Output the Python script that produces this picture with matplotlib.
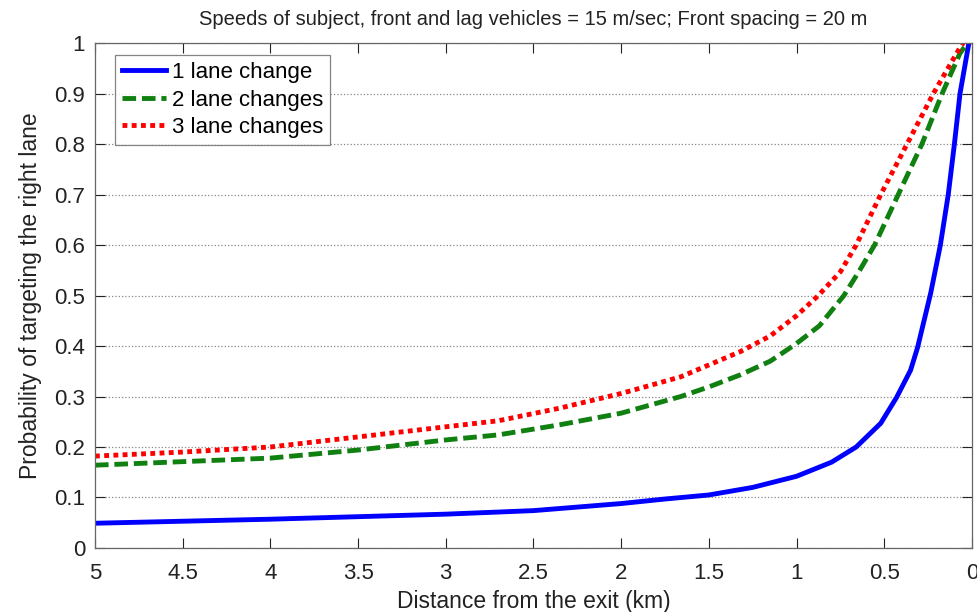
import numpy as np
from matplotlib import pyplot as plt

# values: distance from the exit (km) -> probability
dist_one = [5.0, 4.5, 4.0, 3.5, 3.0, 2.5, 2.0, 1.75, 1.5, 1.25, 1.0, 0.8,
            0.66, 0.52, 0.43, 0.35, 0.31, 0.235, 0.18, 0.135, 0.10, 0.068,
            0.02]
one_lane = [0.049, 0.053, 0.057, 0.062, 0.067, 0.074, 0.088, 0.097, 0.105,
            0.12, 0.142, 0.17, 0.20, 0.247, 0.298, 0.352, 0.397, 0.505,
            0.60, 0.70, 0.80, 0.90, 0.995]

dist_two = [5.0, 4.5, 4.0, 3.5, 3.0, 2.7, 2.35, 2.0, 1.66, 1.5, 1.32, 1.15,
            1.0, 0.87, 0.73, 0.64, 0.555, 0.42, 0.285, 0.17, 0.068, 0.03]
two_lanes = [0.164, 0.171, 0.178, 0.194, 0.214, 0.224, 0.244, 0.267, 0.30,
             0.319, 0.343, 0.37, 0.405, 0.44, 0.50, 0.55, 0.60, 0.70, 0.80,
             0.90, 0.98, 0.998]

dist_three = [5.0, 4.5, 4.0, 3.5, 3.0, 2.7, 2.35, 2.0, 1.66, 1.32, 1.15,
              1.0, 0.876, 0.75, 0.66, 0.52, 0.37, 0.22, 0.07, 0.05]
three_lanes = [0.182, 0.19, 0.20, 0.22, 0.24, 0.252, 0.277, 0.306, 0.339,
               0.389, 0.42, 0.46, 0.50, 0.547, 0.60, 0.70, 0.80, 0.90, 0.99,
               1.0]

plt.rcParams['font.family'] = ['Liberation Sans', 'DejaVu Sans']

fig = plt.figure(figsize=(9.78, 6.12), dpi=100)
ax = fig.add_axes([0.0971, 0.1046, 0.8967, 0.825])

ax.plot(dist_one, one_lane, color='#0000ff', lw=3.5, label='1 lane change')
ax.plot(dist_two, two_lanes, color='#108010', lw=3.5, ls=(0, (2.8, 1.2)),
        label='2 lane changes')
ax.plot(dist_three, three_lanes, color='#ff0000', lw=3.5, ls=(0, (1, 0.9)),
        label='3 lane changes')

ax.set_xlim(5, 0)
ax.set_ylim(0, 1)
ax.set_xticks(np.arange(5, -0.01, -0.5))
ax.set_xticklabels(['5', '4.5', '4', '3.5', '3', '2.5', '2', '1.5', '1',
                    '0.5', '0'])
ax.set_yticks(np.arange(0, 1.01, 0.1))
ax.set_yticklabels(['0', '0.1', '0.2', '0.3', '0.4', '0.5', '0.6', '0.7',
                    '0.8', '0.9', '1'])
ax.tick_params(direction='in', length=7, width=0.8, top=True, right=True,
               labelsize=16, colors='#222222', pad=6)
ax.tick_params(axis='x', pad=11)
ax.tick_params(axis='y', pad=7)
ax.yaxis.grid(True, ls=':', color='#888888', lw=0.9)
for sp in ax.spines.values():
    sp.set_color('#666666')
    sp.set_linewidth(0.9)

ax.set_xlabel('Distance from the exit (km)', fontsize=16.5, labelpad=4,
              color='#222222')
ax.set_ylabel('Probability of targeting the right lane', fontsize=16.5,
              labelpad=9, color='#222222')
ax.set_title('Speeds of subject, front and lag vehicles = 15 m/sec; '
             'Front spacing = 20 m', fontsize=14.5, pad=13, color='#222222')

leg = ax.legend(loc='upper left', fontsize=16, frameon=True, fancybox=False,
                edgecolor='#666666', handlelength=2.0, borderpad=0.3,
                labelspacing=0.3, handletextpad=0.25, borderaxespad=0,
                bbox_to_anchor=(0.023, 0.976))
leg.get_frame().set_linewidth(0.9)

fig.savefig('out.png', dpi=100)
